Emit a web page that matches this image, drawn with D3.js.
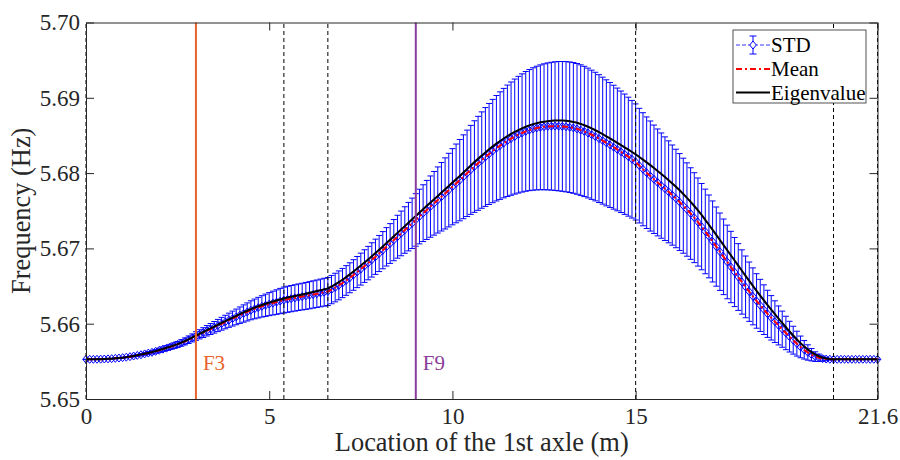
<!DOCTYPE html>
<html>
<head>
<meta charset="utf-8">
<script src="https://cdn.jsdelivr.net/npm/d3@7"></script>
<style>
  body { margin: 0; background: #fff; }
  svg { display: block; }
</style>
</head>
<body>
<svg id="chart" width="900" height="460"></svg>
<script>
// Axle positions along the bridge: one sample every 0.1 m from 0 to 21.6 m
const axleStep = 0.1;
const axleCount = 217;
const positions = d3.range(axleCount).map(i => +(i * axleStep).toFixed(1));

// Identified eigenvalue (Hz) at each axle position
const eigenFreq = [
  5.65527,5.65527,5.65527,5.65528,5.65529,5.65531,5.65533,5.65536,5.65540,5.65544,
  5.65549,5.65556,5.65563,5.65572,5.65581,5.65590,5.65601,5.65612,5.65623,5.65636,
  5.65650,5.65665,5.65680,5.65696,5.65712,5.65729,5.65749,5.65770,5.65793,5.65817,
  5.65842,5.65866,5.65890,5.65914,5.65938,5.65962,5.65986,5.66010,5.66034,5.66058,
  5.66081,5.66104,5.66127,5.66150,5.66172,5.66194,5.66213,5.66231,5.66248,5.66264,
  5.66280,5.66294,5.66308,5.66322,5.66336,5.66347,5.66358,5.66368,5.66379,5.66389,
  5.66399,5.66410,5.66421,5.66433,5.66444,5.66456,5.66468,5.66494,5.66522,5.66552,
  5.66584,5.66618,5.66655,5.66693,5.66732,5.66772,5.66812,5.66853,5.66895,5.66938,
  5.66982,5.67026,5.67071,5.67116,5.67161,5.67206,5.67251,5.67296,5.67341,5.67386,
  5.67431,5.67476,5.67521,5.67565,5.67609,5.67653,5.67697,5.67741,5.67785,5.67829,
  5.67874,5.67919,5.67963,5.68008,5.68055,5.68101,5.68146,5.68190,5.68233,5.68275,
  5.68316,5.68355,5.68392,5.68427,5.68460,5.68491,5.68520,5.68547,5.68572,5.68595,
  5.68616,5.68634,5.68650,5.68663,5.68674,5.68683,5.68690,5.68695,5.68698,5.68699,
  5.68698,5.68695,5.68689,5.68680,5.68668,5.68653,5.68635,5.68615,5.68593,5.68569,
  5.68543,5.68516,5.68488,5.68460,5.68431,5.68402,5.68372,5.68342,5.68311,5.68280,
  5.68248,5.68214,5.68179,5.68143,5.68106,5.68068,5.68029,5.67989,5.67948,5.67906,
  5.67863,5.67818,5.67771,5.67722,5.67671,5.67618,5.67563,5.67505,5.67444,5.67380,
  5.67314,5.67247,5.67179,5.67111,5.67043,5.66975,5.66907,5.66839,5.66771,5.66703,
  5.66635,5.66568,5.66502,5.66437,5.66373,5.66310,5.66248,5.66187,5.66127,5.66068,
  5.66010,5.65953,5.65897,5.65843,5.65791,5.65742,5.65697,5.65657,5.65622,5.65592,
  5.65568,5.65550,5.65538,5.65531,5.65528,5.65527,5.65527,5.65527,5.65527,5.65527,
  5.65527,5.65527,5.65527,5.65527,5.65527,5.65527,5.65527
];

// Mean of the identified frequency (Hz) at each axle position
const meanFreq = [
  5.65527,5.65527,5.65527,5.65528,5.65529,5.65531,5.65533,5.65536,5.65540,5.65544,
  5.65549,5.65555,5.65562,5.65571,5.65579,5.65588,5.65599,5.65610,5.65620,5.65633,
  5.65647,5.65662,5.65676,5.65692,5.65708,5.65724,5.65744,5.65765,5.65787,5.65811,
  5.65836,5.65859,5.65882,5.65906,5.65929,5.65952,5.65976,5.65999,5.66022,5.66046,
  5.66068,5.66090,5.66113,5.66135,5.66156,5.66178,5.66196,5.66213,5.66230,5.66245,
  5.66260,5.66274,5.66287,5.66301,5.66314,5.66324,5.66333,5.66342,5.66352,5.66360,
  5.66369,5.66378,5.66388,5.66398,5.66408,5.66418,5.66428,5.66453,5.66480,5.66509,
  5.66540,5.66574,5.66610,5.66647,5.66686,5.66725,5.66765,5.66805,5.66847,5.66889,
  5.66932,5.66976,5.67021,5.67065,5.67110,5.67155,5.67199,5.67244,5.67289,5.67333,
  5.67378,5.67423,5.67468,5.67511,5.67555,5.67599,5.67643,5.67686,5.67730,5.67774,
  5.67819,5.67863,5.67906,5.67951,5.67997,5.68043,5.68087,5.68130,5.68173,5.68214,
  5.68254,5.68293,5.68330,5.68365,5.68398,5.68429,5.68458,5.68485,5.68510,5.68533,
  5.68554,5.68571,5.68586,5.68598,5.68608,5.68615,5.68620,5.68623,5.68624,5.68623,
  5.68620,5.68616,5.68609,5.68600,5.68587,5.68571,5.68553,5.68532,5.68509,5.68485,
  5.68458,5.68431,5.68402,5.68374,5.68344,5.68314,5.68283,5.68251,5.68218,5.68184,
  5.68148,5.68099,5.68051,5.68005,5.67961,5.67918,5.67876,5.67834,5.67793,5.67751,
  5.67708,5.67663,5.67616,5.67567,5.67516,5.67463,5.67408,5.67350,5.67289,5.67225,
  5.67159,5.67092,5.67024,5.66956,5.66888,5.66820,5.66753,5.66686,5.66620,5.66554,
  5.66489,5.66425,5.66363,5.66302,5.66243,5.66186,5.66131,5.66078,5.66027,5.65977,
  5.65927,5.65877,5.65828,5.65781,5.65735,5.65692,5.65653,5.65618,5.65588,5.65563,
  5.65548,5.65536,5.65530,5.65528,5.65527,5.65527,5.65527,5.65527,5.65527,5.65527,
  5.65527,5.65527,5.65527,5.65527,5.65527,5.65527,5.65527
];

// Standard deviation (Hz) at each axle position
const stdFreq = [
  0,0,0.00001,0.00001,0.00002,0.00003,0.00004,0.00005,0.00006,0.00007,
  0.00008,0.00009,0.00011,0.00013,0.00014,0.00016,0.00018,0.0002,0.00022,0.00025,
  0.00027,0.00029,0.00032,0.00034,0.00037,0.0004,0.00043,0.00046,0.0005,0.00053,
  0.00057,0.00061,0.00065,0.00069,0.00073,0.00077,0.00081,0.00085,0.0009,0.00094,
  0.00099,0.00104,0.00109,0.00115,0.0012,0.00126,0.00131,0.00137,0.00142,0.00148,
  0.00153,0.00158,0.00163,0.00168,0.00172,0.00173,0.00174,0.00175,0.00176,0.00177,
  0.00179,0.0018,0.00181,0.00182,0.00184,0.00185,0.00186,0.00188,0.0019,0.00192,
  0.00194,0.00197,0.00199,0.00203,0.00207,0.00212,0.00217,0.00222,0.00228,0.00234,
  0.0024,0.00247,0.00255,0.00264,0.00274,0.00285,0.00297,0.00309,0.00322,0.00335,
  0.00349,0.00363,0.00377,0.00392,0.00407,0.00423,0.00439,0.00455,0.00472,0.00489,
  0.00506,0.00523,0.0054,0.00557,0.00574,0.00591,0.00608,0.00624,0.0064,0.00656,
  0.00671,0.00686,0.007,0.00714,0.00727,0.0074,0.00752,0.00764,0.00775,0.00785,
  0.00795,0.00804,0.00813,0.00821,0.00829,0.00836,0.00843,0.00849,0.00854,0.00859,
  0.00862,0.00865,0.00867,0.00868,0.00868,0.00867,0.00865,0.00862,0.00858,0.00854,
  0.00849,0.00843,0.00837,0.0083,0.00823,0.00815,0.00807,0.00799,0.0079,0.00781,
  0.00771,0.00761,0.00751,0.00741,0.00731,0.0072,0.0071,0.00699,0.00688,0.00677,
  0.00665,0.00654,0.00643,0.00631,0.0062,0.00608,0.00597,0.00585,0.00573,0.00562,
  0.0055,0.00538,0.00526,0.00514,0.00502,0.00489,0.00474,0.00459,0.00443,0.00427,
  0.0041,0.00394,0.00378,0.00362,0.00346,0.0033,0.00313,0.00295,0.00277,0.00259,
  0.0024,0.00222,0.00204,0.00185,0.00165,0.00144,0.00123,0.00102,0.00082,0.00064,
  0.00048,0.00034,0.00022,0.00012,0.00005,0.00002,0.00001,0.00001,0.00001,0.00001,
  0.00001,0.00001,0.00001,0.00001,0.00001,0.00001,0.00001
];

// Axis ticks and reference markers
const xTicks = [0, 5, 10, 15, 21.6];
const yTicks = [5.65, 5.66, 5.67, 5.68, 5.69, 5.70];
const sectionMarks = [0, 5.4, 6.6, 15, 20.4, 21.6];
const fLabels = ["F3", "F9"];
const fPositions = [3, 9];
const fColors = ["#e8622c", "#8a3c9a"];
const legendLabels = ["STD", "Mean", "Eigenvalue"];

const serif = "'Liberation Serif', 'Times New Roman', serif";
const axisColor = "#262626";

const x = d3.scaleLinear().domain([0, 21.6]).range([86, 877.5]);
const y = d3.scaleLinear().domain([5.65, 5.70]).range([399, 22.5]);

const svg = d3.select("#chart");

const rows = positions.map((p, i) => ({ p, m: meanFreq[i], s: stdFreq[i], e: eigenFreq[i] }));

// ---- STD: error bars, connecting dashed line, diamond markers
const capHalf = 3;
const stdG = svg.append("g").attr("fill", "none").attr("stroke", "#0000ff");

stdG.append("path")
  .datum(rows)
  .attr("stroke-width", 0.8)
  .attr("stroke-dasharray", "4,2")
  .attr("d", d3.line().x(d => x(d.p)).y(d => y(d.m)));

stdG.selectAll("path.eb")
  .data(rows)
  .join("path")
  .attr("class", "eb")
  .attr("stroke-width", 1)
  .attr("d", d => {
    const cx = x(d.p), top = y(d.m + d.s), bot = y(d.m - d.s);
    return `M${cx},${bot}V${top}M${cx - capHalf},${top}H${cx + capHalf}M${cx - capHalf},${bot}H${cx + capHalf}`;
  });

const diamond = (cx, cy) => `M${cx},${cy - 4}L${cx + 3.3},${cy}L${cx},${cy + 4}L${cx - 3.3},${cy}Z`;

stdG.selectAll("path.mk")
  .data(rows)
  .join("path")
  .attr("class", "mk")
  .attr("stroke-width", 1)
  .attr("d", d => diamond(x(d.p), y(d.m)));

// ---- Mean (dash-dot red)
svg.append("path")
  .datum(rows)
  .attr("fill", "none")
  .attr("stroke", "#ff0000")
  .attr("stroke-width", 2)
  .attr("stroke-dasharray", "6,3,2,3")
  .attr("d", d3.line().x(d => x(d.p)).y(d => y(d.m)));

// ---- Eigenvalue (solid black)
svg.append("path")
  .datum(rows)
  .attr("fill", "none")
  .attr("stroke", "#000000")
  .attr("stroke-width", 2)
  .attr("d", d3.line().x(d => x(d.p)).y(d => y(d.e)));

// ---- Section boundaries (dashed)
svg.append("g")
  .selectAll("line")
  .data(sectionMarks)
  .join("line")
  .attr("x1", d => x(d)).attr("x2", d => x(d))
  .attr("y1", y(5.65)).attr("y2", y(5.70))
  .attr("stroke", "#000")
  .attr("stroke-width", 1)
  .attr("stroke-dasharray", "4,3");

// ---- F3 / F9 sensor lines with labels
const fG = svg.append("g");
fG.selectAll("line")
  .data(fPositions)
  .join("line")
  .attr("x1", d => x(d)).attr("x2", d => x(d))
  .attr("y1", y(5.65)).attr("y2", y(5.70))
  .attr("stroke", (d, i) => fColors[i])
  .attr("stroke-width", 2);
fG.selectAll("text")
  .data(fLabels)
  .join("text")
  .attr("x", (d, i) => x(fPositions[i]) + 7)
  .attr("y", y(5.6552) + 10)
  .attr("fill", (d, i) => fColors[i])
  .attr("font-family", serif)
  .attr("font-size", 21)
  .text(d => d);

// ---- Axes (ticks pointing inward, box on all four sides)
function styleAxis(g) {
  g.attr("font-family", serif).attr("font-size", 23);
  g.select(".domain").attr("stroke", axisColor).attr("stroke-width", 1);
  g.selectAll(".tick line").attr("stroke", axisColor).attr("stroke-width", 1);
  g.selectAll(".tick text").attr("fill", axisColor);
}

svg.append("g")
  .attr("transform", `translate(0,${y(5.65)})`)
  .call(d3.axisBottom(x).tickValues(xTicks).tickSize(-8).tickSizeOuter(0).tickPadding(9)
    .tickFormat(d => String(d)))
  .call(styleAxis);

svg.append("g")
  .attr("transform", `translate(0,${y(5.70)})`)
  .call(d3.axisTop(x).tickValues(xTicks).tickSize(-8).tickSizeOuter(0).tickFormat(""))
  .call(styleAxis);

svg.append("g")
  .attr("transform", `translate(${x(0)},0)`)
  .call(d3.axisLeft(y).tickValues(yTicks).tickSize(-8).tickSizeOuter(0).tickPadding(6)
    .tickFormat(d3.format(".2f")))
  .call(styleAxis);

svg.append("g")
  .attr("transform", `translate(${x(21.6)},0)`)
  .call(d3.axisRight(y).tickValues(yTicks).tickSize(-8).tickSizeOuter(0).tickFormat(""))
  .call(styleAxis);

// ---- Axis titles
svg.append("text")
  .attr("x", (x(0) + x(21.6)) / 2)
  .attr("y", 451)
  .attr("text-anchor", "middle")
  .attr("font-family", serif)
  .attr("font-size", 26.4)
  .attr("fill", axisColor)
  .text("Location of the 1st axle (m)");

svg.append("text")
  .attr("transform", `translate(29.5,${(y(5.65) + y(5.70)) / 2}) rotate(-90)`)
  .attr("text-anchor", "middle")
  .attr("font-family", serif)
  .attr("font-size", 26.4)
  .attr("fill", axisColor)
  .text("Frequency (Hz)");

// ---- Legend
const lg = svg.append("g").attr("transform", "translate(733,30)");
lg.append("rect")
  .attr("width", 133).attr("height", 73)
  .attr("fill", "#fff").attr("stroke", axisColor).attr("stroke-width", 0.8);

const rowY = [15, 39, 62.5];
// STD sample
lg.append("line").attr("x1", 3).attr("x2", 37).attr("y1", rowY[0]).attr("y2", rowY[0])
  .attr("stroke", "#0000ff").attr("stroke-width", 0.8).attr("stroke-dasharray", "4,2");
lg.append("path")
  .attr("d", `M20,${rowY[0] + 9}V${rowY[0] - 9}M16.5,${rowY[0] - 9}H23.5M16.5,${rowY[0] + 9}H23.5`)
  .attr("stroke", "#0000ff").attr("stroke-width", 1).attr("fill", "none");
lg.append("path").attr("d", diamond(20, rowY[0]))
  .attr("stroke", "#0000ff").attr("stroke-width", 1).attr("fill", "#fff");
// Mean sample
lg.append("line").attr("x1", 3).attr("x2", 37).attr("y1", rowY[1]).attr("y2", rowY[1])
  .attr("stroke", "#ff0000").attr("stroke-width", 2).attr("stroke-dasharray", "6,3,2,3");
// Eigenvalue sample
lg.append("line").attr("x1", 3).attr("x2", 37).attr("y1", rowY[2]).attr("y2", rowY[2])
  .attr("stroke", "#000").attr("stroke-width", 2);

lg.selectAll("text.lbl")
  .data(legendLabels)
  .join("text")
  .attr("class", "lbl")
  .attr("x", 38)
  .attr("y", (d, i) => rowY[i] + 7)
  .attr("font-family", serif)
  .attr("font-size", 21)
  .attr("fill", "#000")
  .text(d => d);
</script>
</body>
</html>
